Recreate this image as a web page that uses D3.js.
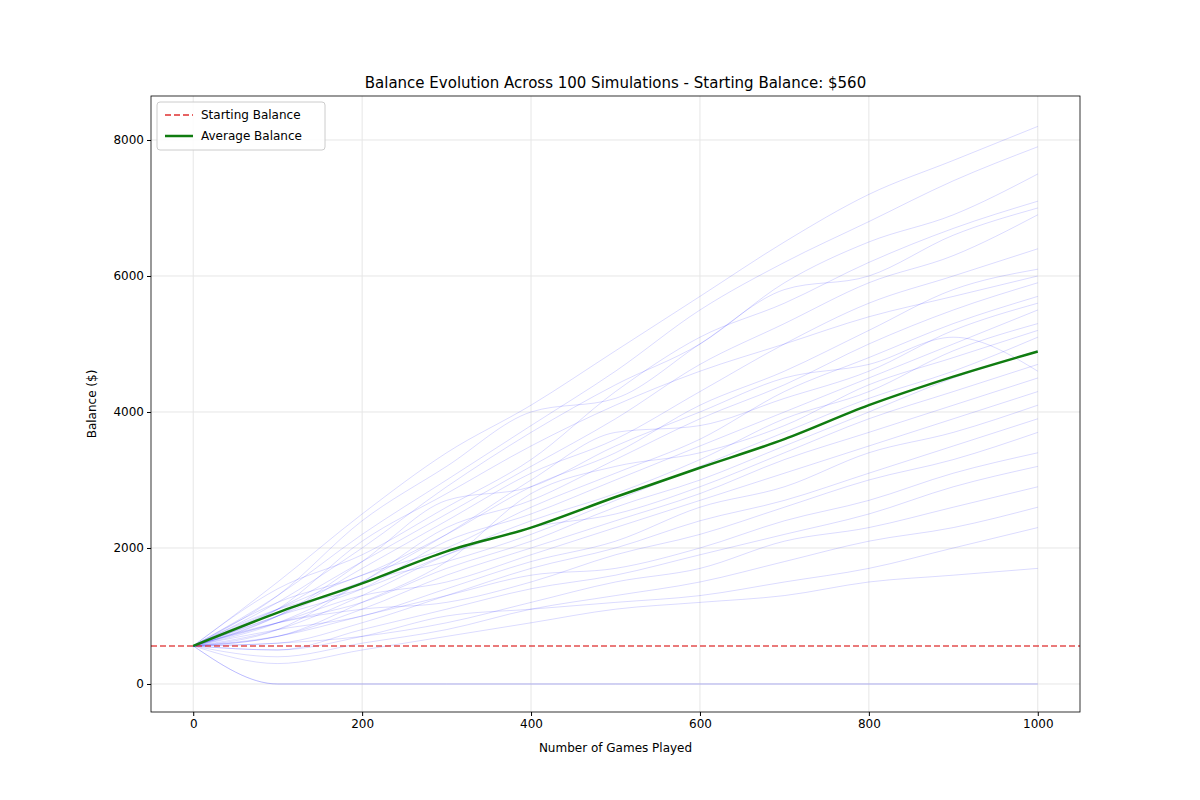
<!DOCTYPE html>
<html><head><meta charset="utf-8">
<script src="https://cdn.jsdelivr.net/npm/d3@7"></script>
<style>body{margin:0;background:#fff}text{font-family:"DejaVu Sans",sans-serif}</style>
</head><body>
<script>
// games at which each simulated balance was read off the picture
var games = [0,100,200,300,400,500,600,700,800,900,1000];
var startBalance = 560;
var avgBalance = [560,1050,1480,1950,2300,2750,3180,3600,4100,4520,4890];
// estimated balances of a sample of the simulations at those games
var sims = [
 [560,1500,2500,3400,4100,4900,5700,6500,7200,7700,8200],
 [560,1300,2200,3000,3800,4600,5500,6200,6800,7400,7900],
 [560,1200,2000,2900,3700,4400,5000,5900,6500,6900,7500],
 [560,1400,1900,2600,3300,4300,5100,5600,6200,6700,7100],
 [560,1100,1800,2500,3200,3900,4700,5300,5900,6300,6900],
 [560,1000,1700,2400,3100,3600,4300,5000,5600,6000,6400],
 [560,1200,1600,2200,2900,3400,4100,4600,5200,5800,6100],
 [560,900,1500,2300,2700,3300,3900,4400,5000,5500,5900],
 [560,1100,1600,2000,2600,3100,3600,4300,4800,5300,5700],
 [560,1000,1400,2100,2500,3000,3500,4000,4500,5000,5500],
 [560,800,1300,1900,2400,2800,3300,3900,4300,4900,5300],
 [560,1000,1500,1800,2200,2700,3200,3700,4200,4600,5100],
 [560,900,1200,1700,2100,2600,3000,3500,4000,4500,4900],
 [560,1100,1400,1900,2300,2500,2900,3400,3900,4300,4700],
 [560,700,1100,1600,2000,2400,2800,3300,3700,4100,4500],
 [560,900,1300,1500,1900,2300,2700,3100,3500,3900,4300],
 [560,800,1000,1400,1800,2100,2600,2900,3400,3700,4100],
 [560,600,900,1300,1700,2000,2400,2700,3100,3500,3900],
 [560,900,1100,1200,1500,1900,2200,2600,3000,3300,3700],
 [560,700,1000,1300,1600,1700,2000,2400,2700,3100,3400],
 [560,500,800,1100,1400,1600,1900,2200,2500,2900,3200],
 [560,600,700,900,1200,1500,1700,2100,2300,2600,2900],
 [560,400,600,800,1100,1300,1500,1800,2100,2300,2600],
 [560,500,700,1000,1100,1200,1300,1500,1700,2000,2300],
 [560,300,500,700,900,1100,1200,1300,1500,1600,1700],
 [560,1300,2400,3200,4000,4200,5000,5800,6000,6600,7000],
 [560,1100,2100,2800,3500,4100,4600,5000,5400,5700,6000],
 [560,800,1500,2200,3000,3700,3800,4200,4600,5200,5600],
 [560,700,1200,1800,2800,3200,3400,3800,4400,4800,5200],
 [560,1000,1800,2700,2900,3500,4000,4500,4700,5100,4600],
 [560,0,0,0,0,0,0,0,0,0,0],
 [560,0,0,0,0,0,0,0,0,0,0]
];
var xTicks = [0,200,400,600,800,1000];
var yTicks = [0,2000,4000,6000,8000];

var W=1200,H=800,L=151,R=1080,T=96,B=712;
var svg=d3.select("body").append("svg").attr("width",W).attr("height",H);
var x=d3.scaleLinear().domain([-50,1050]).range([L,R]);
var y=d3.scaleLinear().domain([-412,8647]).range([B,T]);

svg.append("g").selectAll("line").data(xTicks).enter().append("line")
  .attr("x1",d=>x(d)).attr("x2",d=>x(d)).attr("y1",T).attr("y2",B).attr("stroke","#e6e6e6");
svg.append("g").selectAll("line").data(yTicks).enter().append("line")
  .attr("y1",d=>y(d)).attr("y2",d=>y(d)).attr("x1",L).attr("x2",R).attr("stroke","#e6e6e6");

var line=d3.line().x((d,i)=>x(games[i])).y(d=>y(d)).curve(d3.curveMonotoneX);
svg.append("g").selectAll("path").data(sims).enter().append("path")
  .attr("d",line).attr("fill","none").attr("stroke","blue").attr("stroke-opacity",0.18).attr("stroke-width",0.8);

svg.append("line").attr("x1",L).attr("x2",R).attr("y1",y(startBalance)).attr("y2",y(startBalance))
  .attr("stroke","#e03030").attr("stroke-width",1.5).attr("stroke-dasharray","6,3").attr("opacity",0.85);
svg.append("path").datum(avgBalance).attr("d",line).attr("fill","none").attr("stroke","#107c10").attr("stroke-width",2.5);

svg.append("rect").attr("x",L).attr("y",T).attr("width",R-L).attr("height",B-T).attr("fill","none").attr("stroke","#000").attr("stroke-width",0.8);

var xa=svg.append("g").attr("transform","translate(0,"+B+")").call(d3.axisBottom(x).tickValues(xTicks).tickSize(4).tickFormat(d3.format("d")));
var ya=svg.append("g").attr("transform","translate("+L+",0)").call(d3.axisLeft(y).tickValues(yTicks).tickSize(4).tickFormat(d3.format("d")));
[xa,ya].forEach(a=>{a.select(".domain").remove();a.selectAll("text").attr("font-size",12).attr("fill","#000");});

svg.append("text").attr("x",(L+R)/2).attr("y",88).attr("text-anchor","middle").attr("font-size",15)
  .text("Balance Evolution Across 100 Simulations - Starting Balance: $560");
svg.append("text").attr("x",(L+R)/2).attr("y",752).attr("text-anchor","middle").attr("font-size",12).text("Number of Games Played");
svg.append("text").attr("transform","translate(96,"+((T+B)/2)+") rotate(-90)").attr("text-anchor","middle").attr("font-size",12).text("Balance ($)");

var lg=svg.append("g").attr("transform","translate(157,102)");
lg.append("rect").attr("width",168).attr("height",48).attr("rx",3).attr("fill","#fff").attr("fill-opacity",0.85).attr("stroke","#ccc");
lg.append("line").attr("x1",8).attr("x2",36).attr("y1",13).attr("y2",13).attr("stroke","#e03030").attr("stroke-width",1.5).attr("stroke-dasharray","6,3");
lg.append("text").attr("x",44).attr("y",17).attr("font-size",12).text("Starting Balance");
lg.append("line").attr("x1",8).attr("x2",36).attr("y1",34).attr("y2",34).attr("stroke","#107c10").attr("stroke-width",2.5);
lg.append("text").attr("x",44).attr("y",38).attr("font-size",12).text("Average Balance");
</script>
</body></html>
